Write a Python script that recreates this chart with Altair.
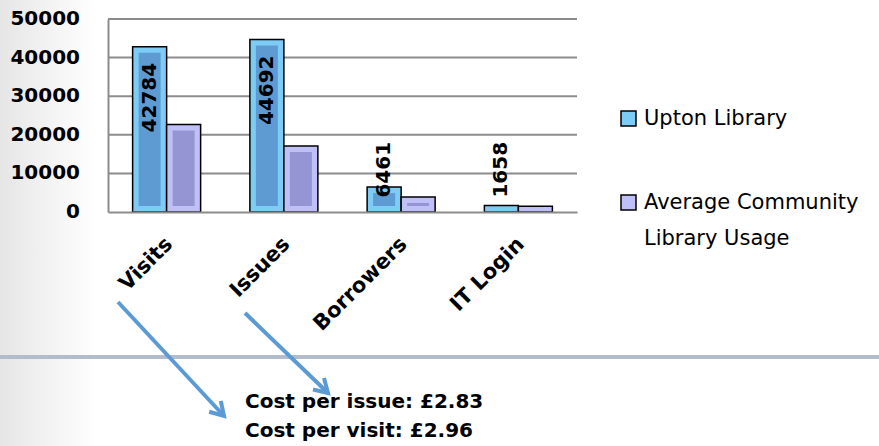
import altair as alt
import pandas as pd

# Library usage figures
categories = ["Visits", "Issues", "Borrowers", "IT Login"]
series_names = ["Upton Library", "Average Community Library Usage"]
upton_values = [42784, 44692, 6461, 1658]
average_values = [22700, 17100, 3900, 1500]
y_ticks = [0, 10000, 20000, 30000, 40000, 50000]
cost_labels = ["Cost per issue: £2.83", "Cost per visit: £2.96"]

outer_colors = ["#7CCCF5", "#C0C0F8"]
inner_colors = ["#5E9BD3", "#9595D3"]

FONT = "DejaVu Sans"
W, H = 469, 193
PAD = {"left": 108, "top": 19, "right": 879 - 108 - 469, "bottom": 446 - 19 - 193}
ARROW = "#5B9BD5"
GRID = "#8C8C8C"

rows = []
for cat, u, a in zip(categories, upton_values, average_values):
    rows.append({"category": cat, "series": series_names[0], "value": u})
    rows.append({"category": cat, "series": series_names[1], "value": a})
df = pd.DataFrame(rows)
one = pd.DataFrame({"k": [0]})
ticks_df = pd.DataFrame({"tick": y_ticks})

x_enc = alt.X(
    "category:N",
    sort=categories,
    scale=alt.Scale(paddingInner=0.42, paddingOuter=0.21),
    axis=alt.Axis(
        title=None,
        labelAngle=-45,
        labelFont=FONT,
        labelFontSize=21,
        labelFontWeight="bold",
        labelColor="black",
        labelLineHeight=22,
        labelPadding=21,
        labelOffset=-5,
        ticks=False,
        domainColor=GRID,
        domainWidth=2,
        zindex=1,
    ),
)
y_scale = alt.Scale(domain=[0, 50000], nice=False)
y_axis = alt.Axis(
    title=None,
    values=y_ticks,
    labels=False,
    ticks=False,
    grid=False,
    domainColor=GRID,
    domainWidth=2,
    zindex=1,
)

base = alt.Chart(df)

# soft grey wash on the left side of the canvas
backdrop = alt.Chart(one).mark_rect(
    color=alt.Gradient(
        gradient="linear",
        x1=0, x2=1, y1=0, y2=0,
        stops=[
            alt.GradientStop(offset=0, color="#E6E6E6"),
            alt.GradientStop(offset=0.11, color="#FFFFFF"),
            alt.GradientStop(offset=1, color="#FFFFFF"),
        ],
    )
).encode(
    x=alt.value(-PAD["left"]),
    x2=alt.value(W + PAD["right"]),
    y=alt.value(-PAD["top"]),
    y2=alt.value(H + PAD["bottom"]),
)

# horizontal gridlines behind the bars
grid = alt.Chart(ticks_df).transform_filter("datum.tick > 0").mark_rule(
    color=GRID, strokeWidth=2
).encode(y=alt.Y("tick:Q", scale=y_scale, axis=y_axis))

# value-axis tick labels
y_labels = alt.Chart(ticks_df).mark_text(
    align="right", baseline="middle",
    font=FONT, fontSize=20, fontWeight="bold", color="black",
).encode(
    x=alt.value(-28),
    y=alt.Y("tick:Q"),
    text=alt.Text("tick:Q", format="d"),
)

outer = base.mark_bar(stroke="black", strokeWidth=1.5).encode(
    x=x_enc,
    xOffset=alt.XOffset("series:N", sort=series_names,
                        scale=alt.Scale(paddingInner=0, paddingOuter=0)),
    y=alt.Y("value:Q", stack=None, scale=y_scale, axis=y_axis),
    color=alt.Color(
        "series:N",
        sort=series_names,
        scale=alt.Scale(domain=series_names, range=outer_colors),
        legend=alt.Legend(
            title=None,
            orient="none",
            legendX=510,
            legendY=89,
            symbolType="square",
            symbolSize=225,
            symbolStrokeColor="black",
            symbolStrokeWidth=1.5,
            symbolOpacity=1,
            labelFont=FONT,
            labelFontSize=21,
            labelColor="black",
            labelOffset=5,
            labelLimit=400,
            rowPadding=62,
            padding=0,
            labelExpr="datum.label == 'Average Community Library Usage' ? ['Average Community', 'Library Usage'] : datum.label",
        ),
    ),
)

# darker inset face of each bar (bevel look)
inner = base.transform_filter("datum.value >= 3000").mark_bar(yOffset=6).encode(
    x=alt.X("category:N", sort=categories),
    xOffset=alt.XOffset("series:N", sort=series_names,
                        scale=alt.Scale(paddingInner=0.353, paddingOuter=0.1765)),
    y=alt.Y("value:Q", stack=None),
    y2=alt.value(H - 6),
    fill=alt.Fill("series:N", scale=alt.Scale(domain=series_names, range=inner_colors), legend=None),
)

# value labels, rotated, centred on the Upton bar (left half of each group)
labels = base.transform_filter(
    alt.datum.series == series_names[0]
).transform_calculate(
    label_pos="max(datum.value, 22300)"
).mark_text(
    angle=270, align="right", baseline="middle", dx=-16, dy=-17,
    font=FONT, fontSize=20, fontWeight="bold", color="black",
).encode(
    x=alt.X("category:N", sort=categories),
    y=alt.Y("label_pos:Q"),
    text=alt.Text("value:Q", format="d"),
)

# separator line across the lower part of the slide
separator = alt.Chart(one).mark_rule(color="#B3BCCB", strokeWidth=4).encode(
    x=alt.value(-PAD["left"]),
    x2=alt.value(W + PAD["right"]),
    y=alt.value(338),
)


def arrow(x0, y0, x1, y1, ang):
    shaft = alt.Chart(one).mark_rule(color=ARROW, strokeWidth=4).encode(
        x=alt.value(x0), y=alt.value(y0), x2=alt.value(x1), y2=alt.value(y1),
    )
    head = alt.Chart(one).mark_point(
        shape="M -0.6 -1 L 0 0 L 0.6 -1", filled=False, color=ARROW,
        strokeWidth=4, opacity=1, size=700, angle=ang,
    ).encode(x=alt.value(x1), y=alt.value(y1))
    return shaft + head


# arrows from the Visits and Issues labels down to the cost figures
visit_arrow = arrow(10, 283, 116, 397, 317)
issue_arrow = arrow(137, 294, 220, 374, 314)

cost_text = alt.Chart(pd.DataFrame({"t": ["\n".join(cost_labels)]})).mark_text(
    align="left", baseline="alphabetic", lineBreak="\n", lineHeight=29,
    font=FONT, fontSize=20, fontWeight="bold", color="black",
).encode(
    x=alt.value(137),
    y=alt.value(389),
    text="t:N",
)

chart = alt.layer(
    backdrop, grid, y_labels, outer, inner, labels, separator,
    visit_arrow, issue_arrow, cost_text
).resolve_scale(
    xOffset="independent"
).properties(
    width=W,
    height=H,
    padding=PAD,
    autosize=alt.AutoSizeParams(type="none"),
    background="white",
).configure_view(
    stroke=None
).configure(
    style={"guide-label": {"lineHeight": 36}}
)

chart.save("out.html", embed_options={"renderer": "svg", "actions": False})
